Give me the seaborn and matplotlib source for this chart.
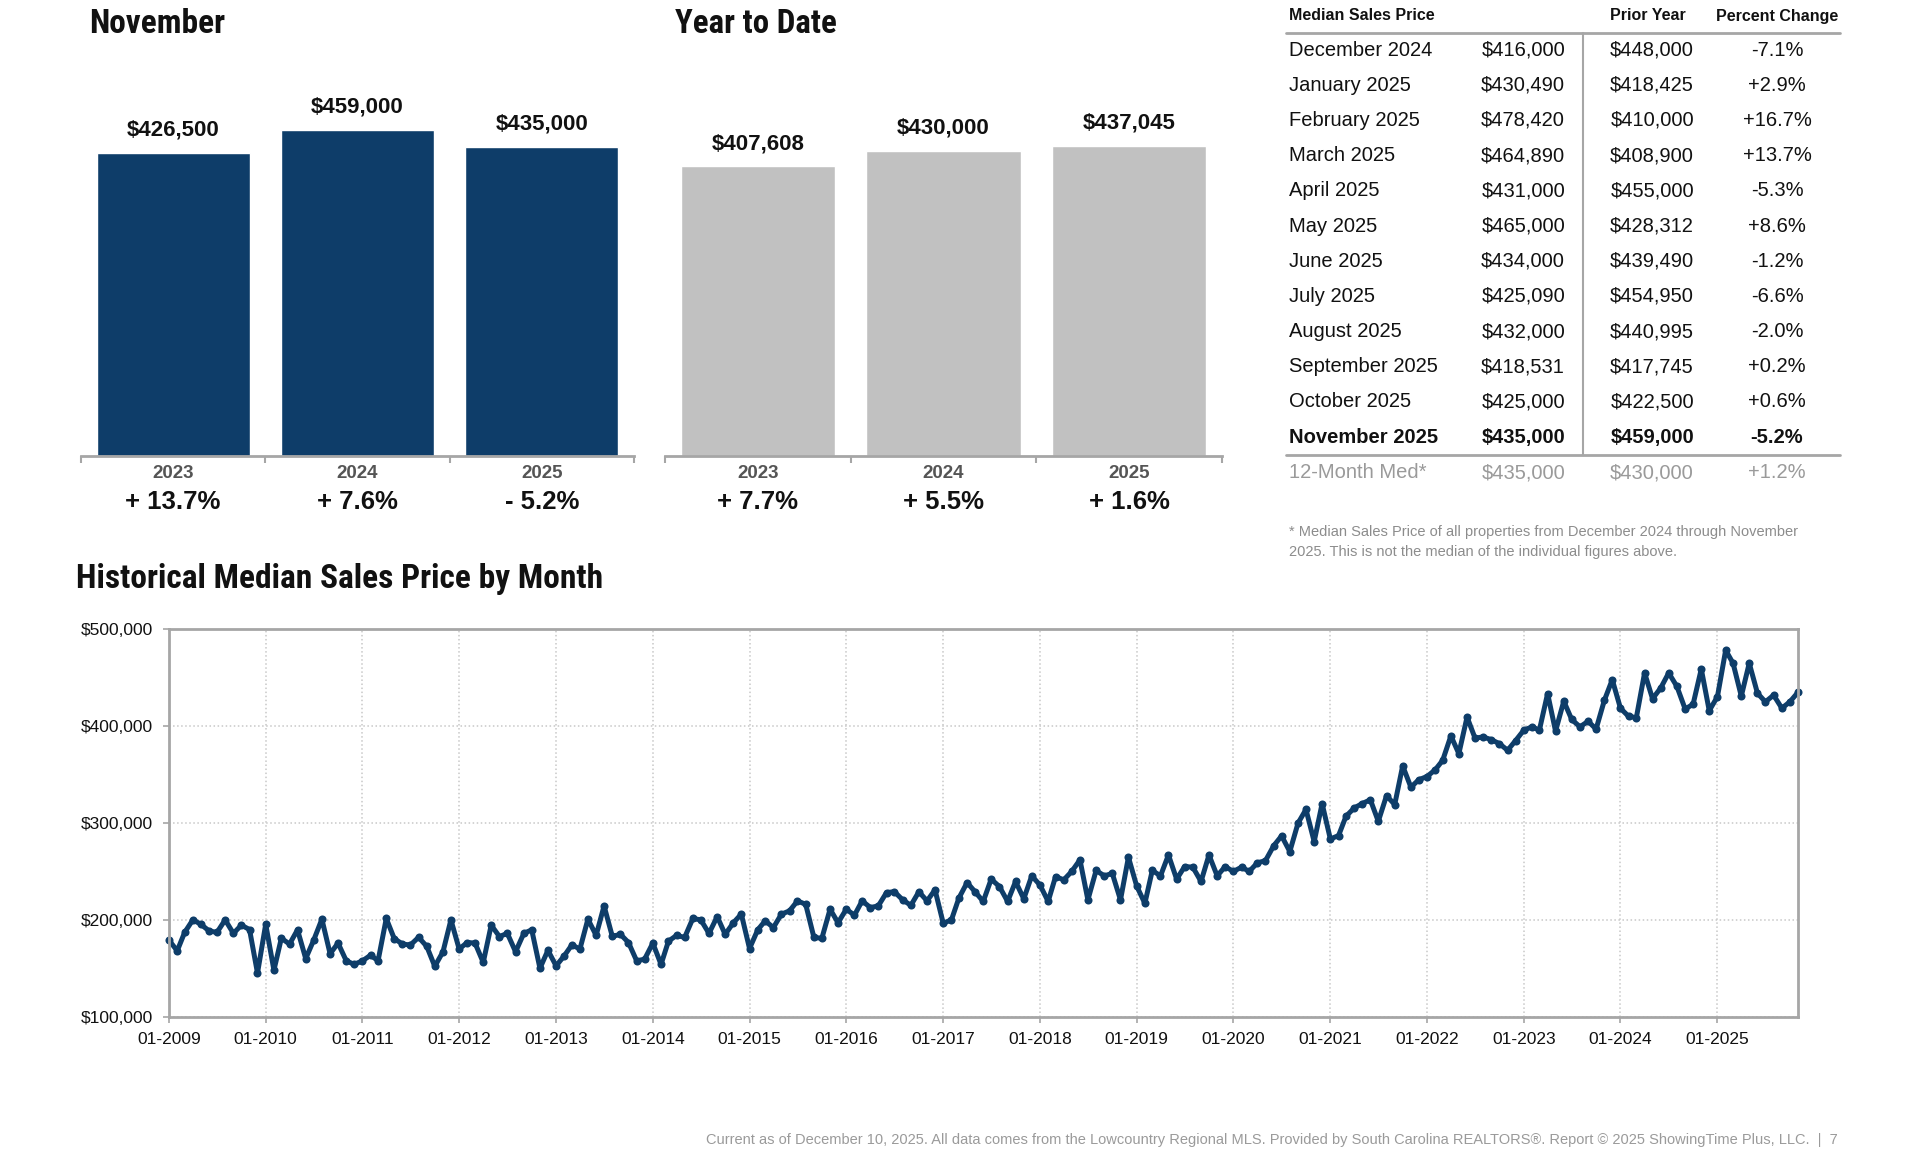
import os
import matplotlib
matplotlib.use("Agg")
import pandas as pd
import matplotlib.pyplot as plt
import matplotlib.dates as mdates
import matplotlib.transforms as mtrans
from matplotlib import font_manager
from matplotlib.ticker import FuncFormatter
import seaborn as sns

# --- data -------------------------------------------------------------
bar_years = ["2023", "2024", "2025"]
nov_values = [426500, 459000, 435000]
nov_pct = ["+ 13.7%", "+ 7.6%", "- 5.2%"]
ytd_values = [407608, 430000, 437045]
ytd_pct = ["+ 7.7%", "+ 5.5%", "+ 1.6%"]

table_months = ["December 2024", "January 2025", "February 2025", "March 2025",
                "April 2025", "May 2025", "June 2025", "July 2025", "August 2025",
                "September 2025", "October 2025", "November 2025"]
table_current = [416000, 430490, 478420, 464890, 431000, 465000, 434000,
                 425090, 432000, 418531, 425000, 435000]
table_prior = [448000, 418425, 410000, 408900, 455000, 428312, 439490,
               454950, 440995, 417745, 422500, 459000]
table_pct = ["-7.1%", "+2.9%", "+16.7%", "+13.7%", "-5.3%", "+8.6%", "-1.2%",
             "-6.6%", "-2.0%", "+0.2%", "+0.6%", "-5.2%"]
med12 = ["12-Month Med*", "$435,000", "$430,000", "+1.2%"]

# monthly median sales price, 01-2009 .. 11-2025
monthly_price = [
    179000, 168000, 187000, 200000, 195500, 188600, 187000, 200000, 186000, 194500, 190000, 145000,  # 2009
    195500, 148000, 181000, 175000, 189700, 160000, 179000, 200700, 165000, 176000, 157700, 154000,  # 2010
    157700, 163500, 157700, 201400, 180700, 175000, 174000, 182000, 172500, 152000, 167000, 200000,  # 2011
    170000, 176600, 176000, 156000, 194500, 182800, 186000, 167000, 186000, 189700, 150000, 168500,  # 2012
    152500, 163000, 174000, 170000, 200700, 184000, 214400, 183000, 185000, 176600, 157700, 159400,  # 2013
    176000, 154000, 178000, 184000, 181800, 201400, 200000, 186000, 203400, 185000, 197000, 206000,  # 2014
    170400, 189700, 199000, 192000, 205800, 209300, 219600, 216000, 181800, 181000, 211000, 197000,  # 2015
    211000, 204800, 219600, 212700, 214400, 228200, 229000, 220600, 215000, 229000, 219600, 231000,  # 2016
    196500, 200000, 222400, 238500, 229000, 219000, 242000, 234400, 219000, 239600, 221700, 245400,  # 2017
    236000, 219000, 244700, 241300, 250000, 262000, 220600, 251000, 245400, 248000, 220600, 264700,  # 2018
    235000, 217000, 251000, 245400, 267000, 242000, 255000, 254400, 239600, 267000, 245400, 255000,  # 2019
    250000, 254400, 250000, 259000, 261000, 276400, 286700, 270500, 299800, 314000, 280800, 320000,  # 2020
    283500, 287000, 306900, 315500, 320000, 324000, 301700, 328200, 319000, 359000, 337000, 344700,  # 2021
    348000, 355000, 364700, 390000, 371600, 409400, 387700, 388800, 386000, 381900, 375100, 385000,  # 2022
    395800, 399300, 395900, 433700, 394800, 425800, 406900, 399300, 405000, 397000, 426500, 448000,  # 2023
    418425, 410000, 408900, 455000, 428312, 439490, 454950, 440995, 417745, 422500, 459000, 416000,  # 2024
    430490, 478420, 464890, 431000, 465000, 434000, 425090, 432000, 418531, 425000, 435000,          # 2025
]

# --- style ------------------------------------------------------------
W, H = 1920, 1152
NAVY = "#0e3d69"
BAR_GRAY = "#c1c1c1"
AXIS_GRAY = "#a6a6a6"

sns.set_theme(style="white")


def has_font(name):
    try:
        font_manager.findfont(font_manager.FontProperties(family=name),
                              fallback_to_default=False)
        return True
    except ValueError:
        return False


def condensed_bold_file():
    # look for any installed narrow / condensed bold face for the headings
    best = None
    for f in font_manager.fontManager.ttflist:
        tag = (f.name + " " + os.path.basename(f.fname)).lower()
        narrow = ("narrow" in tag or "condensed" in tag or "cond" in tag
                  or f.stretch in ("condensed", "semi-condensed", "extra-condensed"))
        w = f.weight if isinstance(f.weight, int) else font_manager.weight_dict.get(f.weight, 400)
        if narrow and w >= 600 and f.style == "normal":
            score = 0 if "liberation" in tag else 1 if "roboto" in tag else 2
            if best is None or score < best[0]:
                best = (score, f.fname)
    return best[1] if best else None


BODY = "Liberation Sans" if has_font("Liberation Sans") else "DejaVu Sans"
plt.rcParams["font.family"] = [BODY, "DejaVu Sans"]
HEAD_FILE = condensed_bold_file()

fig = plt.figure(figsize=(W / 100, H / 100), dpi=100)
renderer = fig.canvas.get_renderer()


def box(x0, y0, x1, y1):
    # pixel box (top-left origin) -> figure fraction rect
    return [x0 / W, 1 - y1 / H, (x1 - x0) / W, (y1 - y0) / H]


def ftext(x, y, s, **kw):
    return fig.text(x / W, 1 - y / H, s, **kw)


def fline(x0, x1, y0, y1, **kw):
    fig.add_artist(plt.Line2D([x0 / W, x1 / W], [1 - y0 / H, 1 - y1 / H], **kw))


def heading(x, y, s, target_w, size=24):
    if HEAD_FILE:
        t = ftext(x, y, s, ha="left", va="baseline", color="#111111",
                  fontproperties=font_manager.FontProperties(fname=HEAD_FILE, size=size))
    else:
        t = ftext(x, y, s, ha="left", va="baseline", color="#111111",
                  fontsize=size, fontweight="bold")
    w = t.get_window_extent(renderer).width
    if w > target_w:
        t.set_fontsize(size * target_w / w)
    return t


# --- bar panels --------------------------------------------------------
def bar_panel(x0, x1, values, pct, color):
    ax = fig.add_axes(box(x0, 30, x1, 455.5))
    df = pd.DataFrame({"year": bar_years, "value": values})
    sns.barplot(data=df, x="year", y="value", color=color, saturation=1,
                width=0.83, ax=ax)
    ax.set_xlim(-0.5, 2.5)
    ax.set_ylim(0, 600000)
    for s in ["left", "top", "right"]:
        ax.spines[s].set_visible(False)
    ax.spines["bottom"].set_color(AXIS_GRAY)
    ax.spines["bottom"].set_linewidth(2)
    ax.set_xticks([-0.5, 0.5, 1.5, 2.5])
    ax.set_xticklabels([])
    ax.set_yticks([])
    ax.tick_params(axis="x", direction="out", length=5, width=1.5,
                   color=AXIS_GRAY, bottom=True)
    ax.set_xlabel("")
    ax.set_ylabel("")
    tr = mtrans.blended_transform_factory(ax.transData, fig.transFigure)
    for i, v in enumerate(values):
        ax.annotate(f"${v:,.0f}", (i, v), xytext=(0, 16.5), textcoords="offset points",
                    ha="center", va="center", fontsize=16, fontweight="bold",
                    color="#111111")
        ax.text(i, 1 - 474 / H, bar_years[i], transform=tr, ha="center", va="center",
                fontsize=13.5, fontweight="bold", color="#555555")
        ax.text(i, 1 - 502 / H, pct[i], transform=tr, ha="center", va="center",
                fontsize=18.5, fontweight="bold", color="#111111")
    return ax


bar_panel(81, 634, nov_values, nov_pct, NAVY)
bar_panel(665, 1222, ytd_values, ytd_pct, BAR_GRAY)
heading(89, 33, "November", 136)
heading(675, 33, "Year to Date", 162)

# --- table -------------------------------------------------------------
TX0, TX1 = 1286, 1840
ftext(1289, 15, "Median Sales Price", ha="left", va="center", fontsize=11.5,
      fontweight="bold", color="#111111")
ftext(1648, 16, "Prior Year", ha="center", va="center", fontsize=11.5,
      fontweight="bold", color="#111111")
ftext(1777, 16, "Percent Change", ha="center", va="center", fontsize=11.5,
      fontweight="bold", color="#111111")
fline(TX0, TX1, 33, 33, color=AXIS_GRAY, linewidth=2)
fline(TX0, TX1, 454.5, 454.5, color=AXIS_GRAY, linewidth=2)
fline(1583, 1583, 33, 454.5, color=AXIS_GRAY, linewidth=1.5)

for i, m in enumerate(table_months):
    y = 50 + 35.2 * i
    wt = "bold" if i == len(table_months) - 1 else "normal"
    kw = dict(va="center", fontsize=14.5, fontweight=wt, color="#111111")
    ftext(1289, y, m, ha="left", **kw)
    ftext(1565, y, f"${table_current[i]:,.0f}", ha="right", **kw)
    ftext(1694, y, f"${table_prior[i]:,.0f}", ha="right", **kw)
    ftext(1777, y, table_pct[i], ha="center", **kw)

kw = dict(va="center", fontsize=14.5, color="#9a9a9a")
ftext(1289, 473, med12[0], ha="left", **kw)
ftext(1565, 473, med12[1], ha="right", **kw)
ftext(1694, 473, med12[2], ha="right", **kw)
ftext(1777, 473, med12[3], ha="center", **kw)

ftext(1289, 532, "* Median Sales Price of all properties from December 2024 through November",
      ha="left", va="center", fontsize=10.55, color="#8c8c8c")
ftext(1289, 552, "2025. This is not the median of the individual figures above.",
      ha="left", va="center", fontsize=10.55, color="#8c8c8c")

# --- historical line ---------------------------------------------------
heading(76, 588, "Historical Median Sales Price by Month", 528)

dates = pd.date_range("2009-01-01", periods=len(monthly_price), freq="MS")
hist = pd.DataFrame({"month": dates, "price": monthly_price})

ax = fig.add_axes(box(169, 629.3, 1798, 1016.7))
sns.lineplot(data=hist, x="month", y="price", color=NAVY, linewidth=3.6,
             marker="o", markersize=5.8, markeredgewidth=0, clip_on=False, ax=ax)
ax.set_xlim(dates[0], dates[-1])
ax.set_ylim(100000, 500000)
ax.set_yticks([100000, 200000, 300000, 400000, 500000])
ax.yaxis.set_major_formatter(FuncFormatter(lambda v, p: f"${v:,.0f}"))
ax.set_xticks(pd.date_range("2009-01-01", "2025-01-01", freq="YS"))
ax.xaxis.set_major_formatter(mdates.DateFormatter("%m-%Y"))
ax.grid(True, color="#c8c8c8", linestyle=":", linewidth=1.1)
for s in ax.spines.values():
    s.set_color(AXIS_GRAY)
    s.set_linewidth(2)
ax.tick_params(axis="both", direction="out", length=4.5, width=1.2, color=AXIS_GRAY,
               labelsize=12.5, labelcolor="#111111", pad=6.5, bottom=True, left=True)
ax.tick_params(axis="y", pad=7)
ax.set_xlabel("")
ax.set_ylabel("")

ftext(1838, 1140,
      "Current as of December 10, 2025. All data comes from the Lowcountry Regional MLS. "
      "Provided by South Carolina REALTORS\u00ae. Report \u00a9 2025 ShowingTime Plus, LLC.  |  7",
      ha="right", va="center", fontsize=10.55, color="#9a9a9a")

fig.savefig("out.png", dpi=100)
